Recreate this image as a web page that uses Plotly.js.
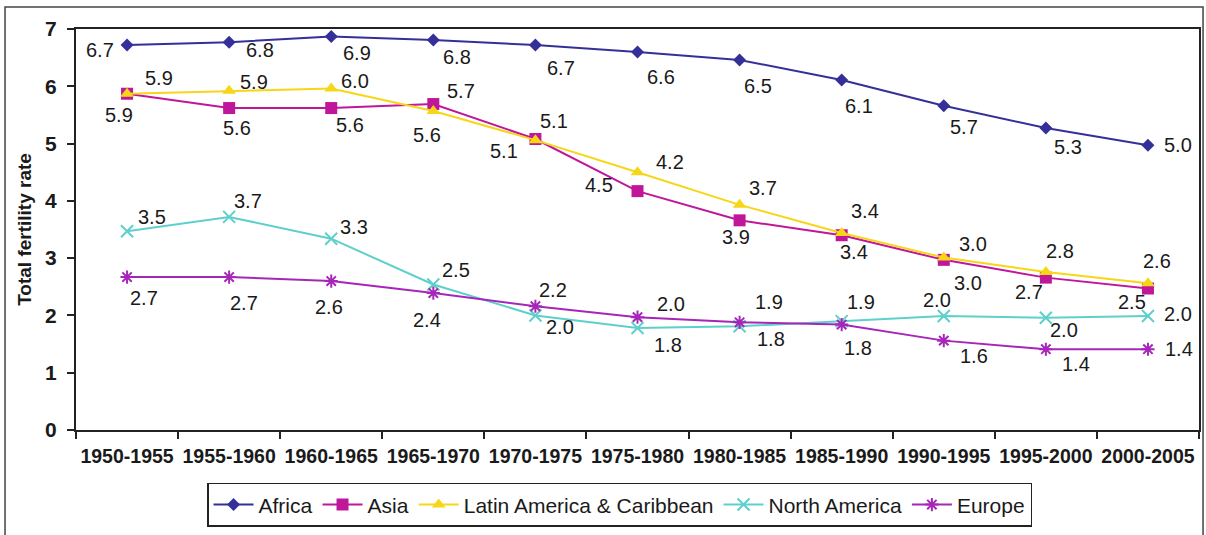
<!DOCTYPE html>
<html>
<head>
<meta charset="utf-8">
<script src="https://cdn.plot.ly/plotly-3.0.1.min.js"></script>
<style>html,body{margin:0;padding:0;background:#fff;}#chart{width:1206px;height:535px;}</style>
</head>
<body>
<div id="chart"></div>
<script>
// ---- data ----
const periods = ["1950-1955","1955-1960","1960-1965","1965-1970","1970-1975","1975-1980","1980-1985","1985-1990","1990-1995","1995-2000","2000-2005"];
const africa  = [6.72, 6.77, 6.87, 6.81, 6.72, 6.60, 6.46, 6.11, 5.66, 5.27, 4.97];
const asia    = [5.87, 5.62, 5.62, 5.69, 5.08, 4.17, 3.66, 3.40, 2.97, 2.66, 2.47];
const latinAm = [5.87, 5.92, 5.96, 5.57, 5.06, 4.50, 3.93, 3.44, 3.01, 2.76, 2.56];
const northAm = [3.47, 3.72, 3.34, 2.54, 2.00, 1.78, 1.81, 1.90, 1.99, 1.96, 1.99];
const europe  = [2.67, 2.67, 2.60, 2.39, 2.16, 1.97, 1.88, 1.84, 1.56, 1.41, 1.41];
const seriesNames = ["Africa","Asia","Latin America & Caribbean","North America","Europe"];
const yTicks = [0,1,2,3,4,5,6,7];

// ---- label offsets (pixels: dx right, dy down) ----
const offsets = [
  {dx:[-27,31,26,24,26,23,18,17,20,22,30], dy:[5,8,17,17,23,25,26,26,21,19,0]},
  {dx:[-8,8,19,28,19,32,23,12,24,-17,-16], dy:[21,20,17,-13,-18,-29,-32,17,23,14,13]},
  {dx:[32,25,24,-6,-31,-39,-4,23,29,14,9], dy:[-16,-9,-8,24,11,13,32,-22,-14,-21,-22]},
  {dx:[25,19,23,23,25,30,31,19,-7,18,30], dy:[-14,-16,-12,-14,12,17,13,-19,-16,12,-2]},
  {dx:[17,15,-2,-6,18,33,29,16,30,30,31], dy:[21,26,26,27,-16,-13,-20,23,15,15,0]}
];

const styles = [
  {color:"#352F9A", symbol:"diamond", size:10, lw:0},
  {color:"#C0179A", symbol:"square", size:12, lw:0},
  {color:"#F7D617", symbol:"triangle-up", size:12, lw:0},
  {color:"#5ED0CC", symbol:"x-thin-open", size:12, lw:2},
  {color:"#A626B8", symbol:"asterisk-open", size:11, lw:2}
];

const allSeries = [africa, asia, latinAm, northAm, europe];
const fontFam = '"Liberation Sans", Arial, sans-serif';

const traces = allSeries.map((vals, i) => ({
  type: "scatter",
  mode: "lines+markers",
  name: seriesNames[i],
  x: periods,
  y: vals,
  line: {color: styles[i].color, width: 2},
  marker: {symbol: styles[i].symbol, size: styles[i].size, color: styles[i].color,
           line: {color: styles[i].color, width: styles[i].lw}},
  hoverinfo: "x+y+name"
}));

const annotations = [];
allSeries.forEach((vals, i) => {
  vals.forEach((v, j) => {
    annotations.push({
      x: periods[j], y: v, xref: "x", yref: "y",
      text: v.toFixed(1), showarrow: false,
      xshift: offsets[i].dx[j], yshift: -offsets[i].dy[j],
      font: {family: fontFam, size: 20, color: "#1a1a1a"}
    });
  });
});

const layout = {
  width: 1206, height: 535,
  margin: {l: 76, r: 7, t: 29, b: 105},
  paper_bgcolor: "#ffffff",
  plot_bgcolor: "#ffffff",
  font: {family: fontFam, color: "#1a1a1a"},
  showlegend: true,
  legend: {
    orientation: "h",
    x: 0.484, xanchor: "center",
    y: -0.132, yanchor: "top",
    bordercolor: "#222", borderwidth: 1.5,
    font: {family: fontFam, size: 21, color: "#1a1a1a"},
    itemwidth: 40,
    tracegroupgap: 0
  },
  xaxis: {
    type: "category",
    range: [-0.5, 10.5],
    showline: true, mirror: true, linecolor: "#222", linewidth: 2,
    ticks: "outside", tickson: "boundaries", ticklen: 7, tickwidth: 2, tickcolor: "#222",
    showgrid: false, zeroline: false,
    tickangle: 0,
    tickfont: {family: fontFam, size: 19.5, color: "#1a1a1a", weight: "bold"},
    ticklabelstandoff: 8,
    fixedrange: true
  },
  yaxis: {
    range: [0, 7],
    tickvals: yTicks,
    ticktext: yTicks.map(String),
    showline: true, mirror: true, linecolor: "#222", linewidth: 2,
    ticks: "outside", ticklen: 7, tickwidth: 2, tickcolor: "#222",
    showgrid: false, zeroline: false,
    tickfont: {family: fontFam, size: 21, color: "#1a1a1a", weight: "bold"},
    ticklabelstandoff: 6,
    title: {text: "Total fertility rate", standoff: 8,
            font: {family: fontFam, size: 19, color: "#1a1a1a", weight: "bold"}},
    fixedrange: true
  },
  shapes: [{
    type: "rect", xref: "paper", yref: "paper",
    x0: -0.0632, x1: 1.0036, y0: -0.35, y1: 1.0549,
    line: {color: "#444", width: 1.5}, fillcolor: "rgba(0,0,0,0)", layer: "below"
  }],
  annotations: annotations
};

Plotly.newPlot("chart", traces, layout, {displayModeBar: false, staticPlot: true});
</script>
</body>
</html>
